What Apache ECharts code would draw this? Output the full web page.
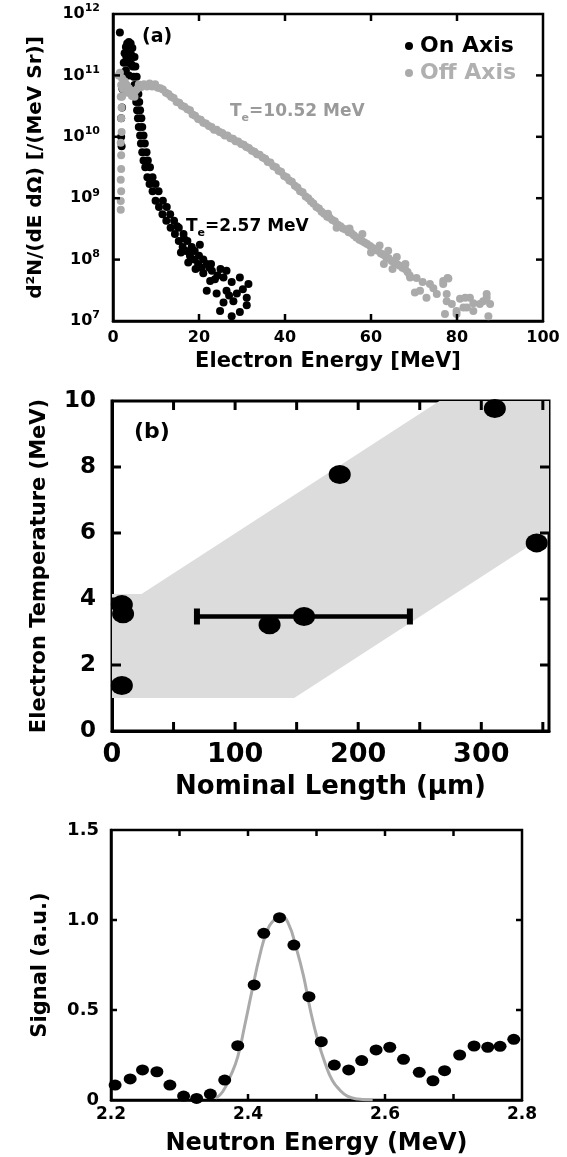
<!DOCTYPE html>
<html>
<head>
<meta charset="utf-8">
<script src="https://cdn.jsdelivr.net/npm/echarts@6/dist/echarts.min.js"></script>
<style>
  html, body { margin: 0; padding: 0; background: #fff; }
  #chart { width: 567px; height: 1157px; }
</style>
</head>
<body>
<div id="chart"></div>
<script>
/* ---------------- (a) electron spectra : [energy MeV, d2N/dE dOmega] ---------------- */
const onAxis = [
  [1.6, 5.0e11],
  [1.9, 1.0e10], [1.9, 2.0e10], [2.0, 7.0e9],
  [2.1, 3.0e10], [2.2, 6.0e10], [2.3, 1.1e11], [2.5, 1.6e11], [2.7, 2.3e11], [3.0, 2.9e11],
  [3.3, 3.3e11], [3.7, 3.5e11], [4.1, 3.3e11], [4.5, 2.8e11],
  [2.6, 8.0e10], [3.0, 1.2e11], [3.4, 1.6e11], [3.8, 2.2e11], [3.1, 2.0e11], [3.6, 2.7e11],
  [4.2, 2.2e11], [3.7, 1.0e11], [4.3, 1.5e11],
  [4.4, 2.0e11], [5.0, 2.0e11], [4.6, 1.4e11], [5.2, 1.4e11], [4.8, 9.5e10], [5.5, 9.5e10],
  [5.0, 7.0e10], [5.7, 7.0e10], [5.2, 5.0e10], [5.9, 5.0e10], [5.4, 3.7e10], [6.1, 3.7e10],
  [5.6, 2.7e10], [6.3, 2.7e10], [5.8, 2.0e10], [6.6, 2.0e10], [6.0, 1.45e10], [6.8, 1.45e10],
  [6.3, 1.05e10], [7.1, 1.05e10], [6.5, 7.8e9], [7.4, 7.8e9], [6.8, 5.6e9], [7.8, 5.6e9],
  [7.1, 4.1e9], [8.1, 4.1e9], [7.5, 3.2e9], [8.6, 3.2e9], [8.0, 2.2e9], [9.2, 2.2e9],
  [8.5, 1.7e9], [9.9, 1.7e9], [9.2, 1.3e9], [10.6, 1.3e9], [9.9, 9.1e8], [11.6, 9.1e8],
  [10.7, 7.2e8], [12.5, 7.2e8], [11.5, 5.5e8], [13.3, 5.5e8], [12.4, 4.3e8], [14.2, 4.3e8],
  [13.4, 3.3e8], [15.3, 3.3e8], [14.4, 2.6e8], [16.4, 2.6e8], [15.3, 2.0e8], [17.3, 2.0e8],
  [16.2, 1.6e8], [18.3, 1.6e8], [17.0, 1.38e8], [19.0, 1.38e8], [17.9, 1.15e8], [20.0, 1.15e8],
  [18.9, 1.0e8], [21.0, 1.0e8], [19.8, 8.5e7], [21.8, 8.5e7], [20.6, 7.4e7], [22.4, 7.4e7],
  [14.9, 3.5e8], [16.5, 2.2e8], [18.5, 1.45e8], [20.2, 1.75e8], [17.5, 9.0e7], [19.2, 7.0e7],
  [21.0, 6.0e7], [15.8, 1.3e8],
  [22.8, 8.5e7], [21.8, 3.1e7], [23.0, 6.6e7], [22.6, 4.5e7], [23.7, 4.8e7], [24.1, 2.8e7],
  [24.9, 1.45e7], [25.7, 5.1e7], [25.7, 2.0e7], [26.4, 6.6e7], [26.4, 3.1e7], [27.6, 4.3e7],
  [27.6, 1.2e7], [28.0, 2.1e7], [28.8, 2.8e7], [29.5, 5.1e7], [29.5, 1.4e7], [31.1, 2.4e7],
  [31.1, 1.8e7], [31.5, 4.0e7], [30.2, 3.3e7], [24.3, 5.5e7], [25.0, 7.0e7], [27.0, 2.6e7]
];

const offAxis = [
  [1.8, 6.5e8], [1.8, 9.0e8], [1.9, 1.3e9], [1.8, 2.0e9], [1.9, 3.0e9], [1.9, 5.0e9],
  [1.8, 8.0e9], [2.0, 1.2e10], [1.9, 2.0e10], [2.0, 3.0e10], [1.8, 4.5e10], [1.9, 7.0e10],
  [1.6, 1.1e11], [1.3, 1.0e11], [2.1, 9.0e10], [2.3, 6.0e10], [2.1, 4.5e10],
  [2.7, 8.0e10], [3.2, 7.0e10], [3.7, 6.2e10], [4.2, 5.6e10], [4.7, 5.3e10], [5.2, 5.6e10],
  [5.6, 6.0e10], [3.4, 5.2e10], [4.4, 4.6e10], [5.0, 4.5e10],
  [6.0, 7.1e10], [7.2, 7.2e10], [8.5, 7.4e10], [9.8, 7.2e10], [11.0, 6.2e10], [12.3, 5.2e10],
  [13.5, 4.5e10], [14.8, 3.7e10], [16.0, 3.2e10], [17.3, 2.8e10], [18.5, 2.3e10], [19.8, 1.95e10],
  [21.0, 1.7e10], [22.3, 1.5e10], [23.5, 1.3e10], [24.8, 1.2e10], [26.0, 1.05e10], [27.3, 9.5e9],
  [28.5, 8.5e9], [29.8, 7.6e9], [31.0, 6.8e9], [32.3, 5.9e9], [33.5, 5.2e9], [34.8, 4.6e9],
  [36.0, 3.9e9], [37.3, 3.3e9], [38.5, 2.8e9], [39.8, 2.3e9], [41.0, 1.95e9], [42.3, 1.6e9],
  [43.5, 1.3e9], [44.8, 1.07e9], [46.0, 8.9e8], [47.3, 7.2e8], [48.5, 6.0e8], [49.8, 5.0e8],
  [51.0, 4.4e8], [52.3, 3.7e8], [53.5, 3.2e8], [54.8, 2.8e8], [56.0, 2.5e8], [57.3, 2.1e8],
  [58.5, 1.9e8], [59.8, 1.66e8], [61.0, 1.45e8], [62.3, 1.26e8], [63.5, 1.1e8], [64.8, 9.5e7],
  [66.0, 8.5e7], [67.3, 7.4e7], [68.5, 6.3e7],
  [6.6, 6.5e10], [7.9, 6.6e10], [9.1, 6.6e10], [10.4, 6.3e10], [11.6, 5.9e10], [12.9, 5.0e10],
  [14.1, 4.3e10], [15.4, 3.6e10], [16.6, 3.1e10], [17.9, 2.7e10], [19.1, 2.2e10], [20.4, 1.9e10],
  [21.6, 1.65e10], [22.9, 1.45e10], [24.1, 1.3e10], [25.4, 1.15e10], [26.6, 1.05e10], [27.9, 9.3e9],
  [29.1, 8.4e9], [30.4, 7.4e9], [31.6, 6.6e9], [32.9, 5.7e9], [34.1, 5.1e9], [35.4, 4.4e9],
  [36.6, 3.8e9], [37.9, 3.2e9], [39.1, 2.7e9], [40.4, 2.2e9], [41.6, 1.85e9], [42.9, 1.5e9],
  [44.1, 1.25e9], [45.4, 1.0e9], [46.6, 8.2e8], [47.9, 6.8e8], [49.1, 5.6e8], [50.4, 4.8e8],
  [51.6, 4.2e8], [52.9, 3.5e8], [54.1, 3.1e8], [55.4, 2.7e8], [56.6, 2.3e8], [57.9, 2.0e8],
  [59.1, 1.8e8], [60.4, 1.55e8], [61.6, 1.4e8], [62.9, 1.2e8], [64.1, 1.05e8], [65.4, 9.0e7],
  [66.6, 8.0e7], [67.9, 7.0e7],
  [55.0, 3.2e8], [58.0, 2.6e8], [62.0, 1.7e8], [64.0, 1.4e8], [60.0, 1.3e8], [63.0, 8.5e7],
  [66.0, 1.1e8], [68.0, 8.5e7], [65.0, 7.0e7], [69.0, 5.5e7], [50.0, 5.6e8], [52.0, 3.3e8],
  [69.1, 5.1e7], [70.2, 2.9e7], [70.6, 5.0e7], [71.4, 3.1e7], [72.9, 2.4e7], [73.7, 4.0e7],
  [75.3, 2.75e7], [76.8, 4.0e7], [76.8, 4.5e7], [77.2, 1.3e7], [77.6, 2.75e7], [77.6, 2.1e7],
  [77.8, 5.0e7], [78.0, 4.9e7], [78.8, 1.9e7], [79.9, 1.45e7], [79.9, 1.3e7], [80.7, 2.3e7],
  [81.5, 1.66e7], [81.9, 2.4e7], [82.3, 1.66e7], [83.0, 2.4e7], [83.8, 1.95e7], [83.8, 1.45e7],
  [85.3, 1.9e7], [86.1, 2.1e7], [86.9, 2.4e7], [86.9, 2.75e7], [87.3, 1.2e7], [87.7, 1.9e7],
  [74.5, 3.4e7], [72.0, 4.3e7]
];

/* ---------------- (b) temperature vs nominal length ---------------- */
const lengthUm = [8, 9, 8, 128, 156, 185, 311, 345];
const tempMeV = [3.83, 3.55, 1.38, 3.22, 3.47, 7.77, 9.77, 5.70];
// [x, y, xLow, xHigh]
const lengthErr = [[156, 3.47, 69, 242]];
// shaded band outline, [length, temperature]
const bandOutline = [[0, 1], [148, 1], [355, 6], [355, 10], [266, 10], [24, 4.15], [0, 4.15]];

/* ---------------- (c) neutron spectrum ---------------- */
const neutronEnergy = [2.206, 2.228, 2.246, 2.267, 2.286, 2.306, 2.325, 2.345, 2.366, 2.385,
  2.409, 2.423, 2.446, 2.467, 2.489, 2.507, 2.526, 2.547, 2.566, 2.587,
  2.607, 2.627, 2.650, 2.670, 2.687, 2.709, 2.730, 2.750, 2.768, 2.788];
const neutronSignal = [0.083, 0.117, 0.167, 0.157, 0.083, 0.022, 0.009, 0.033, 0.111, 0.302,
  0.639, 0.926, 1.013, 0.861, 0.574, 0.324, 0.194, 0.167, 0.219, 0.278,
  0.293, 0.226, 0.154, 0.107, 0.163, 0.250, 0.300, 0.293, 0.298, 0.337];
const fitEnergy = [2.353, 2.363, 2.374, 2.385, 2.395, 2.406, 2.417, 2.427, 2.438, 2.449, 2.459,
  2.470, 2.481, 2.491, 2.502, 2.513, 2.523, 2.534, 2.545, 2.560, 2.582];
const fitSignal = [0.01, 0.046, 0.13, 0.24, 0.41, 0.61, 0.80, 0.93, 1.00, 1.02, 0.98,
  0.85, 0.69, 0.50, 0.33, 0.20, 0.11, 0.056, 0.022, 0.006, 0.0];

/* ---------------- inner tick positions (drawn on all four sides of each frame) ---------------- */
const ticksAx = [20, 40, 60, 80];
const ticksAy = [1e8, 1e9, 1e10, 1e11];
const ticksBx = [50, 100, 150, 200, 250, 300, 350];
const ticksBy = [2, 4, 6, 8];
const ticksCx = [2.3, 2.4, 2.5, 2.6, 2.7];
const ticksCy = [0.5, 1.0];

const FONT = "'DejaVu Sans', sans-serif";
const BLACK = '#000';
const GREY = '#aaaaaa';

const frame = (width) => ({ show: true, onZero: false, lineStyle: { color: BLACK, width: width } });
const tickLabel = (fontSize, margin, formatter) => ({
  show: true, color: BLACK, fontFamily: FONT, fontWeight: 'bold', fontSize: fontSize, margin: margin, formatter: formatter
});
const nameStyle = (fontSize) => ({ color: BLACK, fontFamily: FONT, fontWeight: 'bold', fontSize: fontSize });

const axis = (gridIndex, scale, lineW, extra) => Object.assign({
  type: 'value', gridIndex: gridIndex, splitLine: { show: false },
  axisLine: frame(lineW), axisTick: { show: false }
}, scale, extra);

const expLabel = (v) => '{a|10}{b|' + Math.round(Math.log10(v)) + '}';

// short inward strokes at each tick value, on both opposite sides of the frame
const tickMarks = (index, xTicks, yTicks, xr, yr, len, width) => {
  const marks = xTicks.map((v) => ['x', v]).concat(yTicks.map((v) => ['y', v]));
  return {
    type: 'custom', xAxisIndex: index, yAxisIndex: index, clip: false, silent: true, z: 6,
    data: marks.map((m) => (m[0] === 'x' ? [m[1], yr[0]] : [xr[0], m[1]])),
    renderItem: (params, api) => {
      const m = marks[params.dataIndex];
      const isX = m[0] === 'x';
      const a = isX ? api.coord([m[1], yr[0]]) : api.coord([xr[0], m[1]]);
      const b = isX ? api.coord([m[1], yr[1]]) : api.coord([xr[1], m[1]]);
      const d = isX ? [0, -len] : [len, 0];
      return {
        type: 'group',
        children: [
          { type: 'line', shape: { x1: a[0], y1: a[1], x2: a[0] + d[0], y2: a[1] + d[1] }, style: { stroke: BLACK, lineWidth: width } },
          { type: 'line', shape: { x1: b[0], y1: b[1], x2: b[0] - d[0], y2: b[1] - d[1] }, style: { stroke: BLACK, lineWidth: width } }
        ]
      };
    }
  };
};

const subText = (label, color, size) => ({
  text: '{t|T}{s|e}{t|' + label + '}',
  fill: color,
  verticalAlign: 'middle',
  rich: {
    t: { fontFamily: FONT, fontWeight: 'bold', fontSize: size, fill: color, lineHeight: size + 6, verticalAlign: 'middle' },
    s: { fontFamily: FONT, fontWeight: 'bold', fontSize: 11, fill: color, lineHeight: 11, verticalAlign: 'bottom' }
  }
});

const chart = echarts.init(document.getElementById('chart'), null, { renderer: 'canvas' });

chart.setOption({
  animation: false,
  backgroundColor: '#fff',
  grid: [
    { left: 113, top: 14, width: 430, height: 307, show: true, borderColor: BLACK, borderWidth: 2.5, backgroundColor: 'transparent' },
    { left: 112, top: 401, width: 437, height: 330, show: true, borderColor: BLACK, borderWidth: 3, backgroundColor: 'transparent' },
    { left: 111, top: 830, width: 411, height: 272, show: true, borderColor: BLACK, borderWidth: 2.5, backgroundColor: 'transparent' }
  ],
  xAxis: [
    axis(0, { min: 0, max: 100, interval: 20 }, 2.5, {
      axisLabel: tickLabel(16, 9, (v) => String(v)),
      name: 'Electron Energy [MeV]', nameLocation: 'middle', nameGap: 30, nameTextStyle: nameStyle(21)
    }),
    axis(1, { min: 0, max: 355, interval: 50 }, 3, {
      axisLabel: tickLabel(27, 10, (v) => (v % 100 === 0 ? String(v) : '')),
      name: 'Nominal Length (\u03bcm)', nameLocation: 'middle', nameGap: 43, nameTextStyle: nameStyle(26)
    }),
    axis(2, { min: 2.2, max: 2.8, interval: 0.2 }, 2.5, {
      axisLabel: tickLabel(17, 6, (v) => v.toFixed(1)),
      name: 'Neutron Energy (MeV)', nameLocation: 'middle', nameGap: 32, nameTextStyle: nameStyle(24)
    })
  ],
  yAxis: [
    axis(0, { type: 'log', logBase: 10, min: 1e7, max: 1e12 }, 2.5, {
      axisLabel: {
        margin: 13, formatter: expLabel,
        rich: {
          a: { fontFamily: FONT, fontWeight: 'bold', fontSize: 16, color: BLACK, lineHeight: 22, verticalAlign: 'middle' },
          b: { fontFamily: FONT, fontWeight: 'bold', fontSize: 11, color: BLACK, lineHeight: 11, verticalAlign: 'top' }
        }
      },
      name: 'd\u00b2N/(dE d\u03a9) [/(MeV Sr)]', nameLocation: 'middle', nameGap: 67, nameTextStyle: nameStyle(20)
    }),
    axis(1, { min: 0, max: 10, interval: 2 }, 3, {
      axisLabel: tickLabel(23, 16, (v) => String(v)),
      name: 'Electron Temperature (MeV)', nameLocation: 'middle', nameGap: 62, nameTextStyle: nameStyle(21)
    }),
    axis(2, { min: 0, max: 1.5, interval: 0.5 }, 2.5, {
      axisLabel: tickLabel(18, 12, (v) => (v === 0 ? '0' : v.toFixed(1))),
      name: 'Signal (a.u.)', nameLocation: 'middle', nameGap: 60, nameTextStyle: nameStyle(21)
    })
  ],
  legend: {
    orient: 'vertical', left: 400, top: 30, itemWidth: 8, itemHeight: 8, itemGap: 5,
    icon: 'circle', selectedMode: false,
    textStyle: { fontFamily: FONT, fontWeight: 'bold', fontSize: 22, padding: [0, 0, 0, 2] },
    data: [
      { name: 'On Axis', textStyle: { color: BLACK } },
      { name: 'Off Axis', textStyle: { color: '#b0b0b0' } }
    ]
  },
  graphic: [
    { type: 'text', x: 142, y: 37, style: { text: '(a)', font: 'bold 19px ' + FONT, fill: BLACK, verticalAlign: 'middle' } },
    { type: 'text', x: 230, y: 112, style: subText('=10.52 MeV', '#9a9a9a', 17) },
    { type: 'text', x: 186, y: 227, style: subText('=2.57 MeV', BLACK, 17) },
    { type: 'text', x: 134, y: 432, style: { text: '(b)', font: 'bold 22px ' + FONT, fill: BLACK, verticalAlign: 'middle' } }
  ],
  series: [
    {
      name: 'On Axis', type: 'scatter', xAxisIndex: 0, yAxisIndex: 0,
      symbolSize: 8, itemStyle: { color: BLACK, opacity: 1 }, data: onAxis
    },
    {
      name: 'Off Axis', type: 'scatter', xAxisIndex: 0, yAxisIndex: 0,
      symbolSize: 8, itemStyle: { color: GREY, opacity: 1 }, data: offAxis
    },
    {
      type: 'custom', xAxisIndex: 1, yAxisIndex: 1, clip: true, z: 1,
      data: bandOutline,
      renderItem: (params, api) => {
        if (params.dataIndex !== 0) return null;
        return {
          type: 'polygon',
          shape: { points: bandOutline.map((p) => api.coord(p)) },
          style: { fill: '#dcdcdc' }
        };
      }
    },
    {
      type: 'scatter', xAxisIndex: 1, yAxisIndex: 1, z: 3,
      symbolSize: [22, 19], itemStyle: { color: BLACK, opacity: 1 },
      data: lengthUm.map((x, i) => [x, tempMeV[i]])
    },
    {
      type: 'custom', xAxisIndex: 1, yAxisIndex: 1, z: 4,
      encode: { x: [0, 2, 3], y: 1 },
      data: lengthErr,
      renderItem: (params, api) => {
        const lo = api.coord([api.value(2), api.value(1)]);
        const hi = api.coord([api.value(3), api.value(1)]);
        return {
          type: 'group',
          children: [
            { type: 'line', shape: { x1: lo[0], y1: lo[1], x2: hi[0], y2: hi[1] }, style: { stroke: BLACK, lineWidth: 4.5 } },
            { type: 'rect', shape: { x: lo[0] - 3, y: lo[1] - 8, width: 6, height: 16 }, style: { fill: BLACK } },
            { type: 'rect', shape: { x: hi[0] - 3, y: hi[1] - 8, width: 6, height: 16 }, style: { fill: BLACK } }
          ]
        };
      }
    },
    {
      type: 'line', xAxisIndex: 2, yAxisIndex: 2, smooth: true, showSymbol: false, z: 2,
      lineStyle: { color: GREY, width: 3 },
      data: fitEnergy.map((x, i) => [x, fitSignal[i]])
    },
    {
      type: 'scatter', xAxisIndex: 2, yAxisIndex: 2, z: 3,
      symbolSize: [13, 11], itemStyle: { color: BLACK, opacity: 1 },
      data: neutronEnergy.map((x, i) => [x, neutronSignal[i]])
    },
    tickMarks(0, ticksAx, ticksAy, [0, 100], [1e7, 1e12], 7, 2.5),
    tickMarks(1, ticksBx, ticksBy, [0, 355], [0, 10], 9, 3),
    tickMarks(2, ticksCx, ticksCy, [2.2, 2.8], [0, 1.5], 6, 2.5)
  ]
});
</script>
</body>
</html>
